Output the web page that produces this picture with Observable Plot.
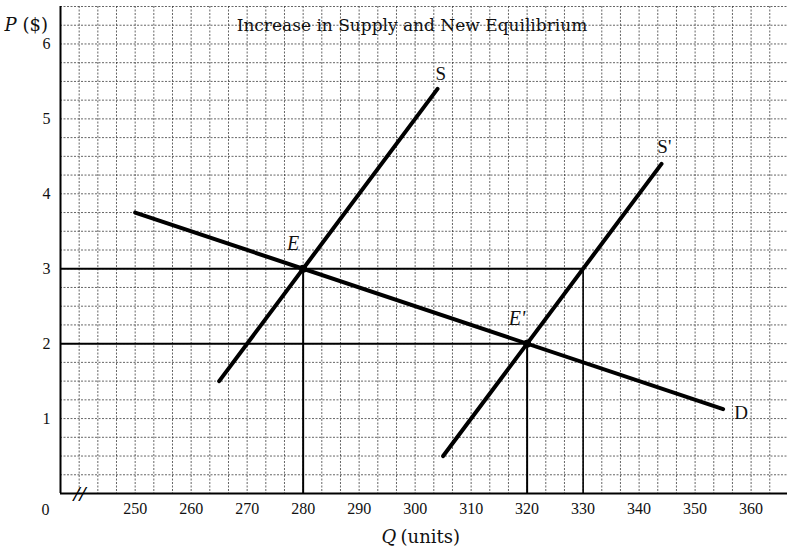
<!DOCTYPE html>
<html>
<head>
<meta charset="utf-8">
<script src="https://cdn.jsdelivr.net/npm/d3@7"></script>
<script src="https://cdn.jsdelivr.net/npm/@observablehq/plot@0.6"></script>
<style>
  html, body { margin: 0; padding: 0; background: #fff; }
  svg { display: block; }
</style>
</head>
<body>
<div id="chart"></div>
<script>
// ---- data ----
const xTicks = [250, 260, 270, 280, 290, 300, 310, 320, 330, 340, 350, 360];
const yTicks = [1, 2, 3, 4, 5, 6];
const demandQ = [250, 355];
const demandP = [3.75, 1.125];
const supplyQ = [265, 304];
const supplyP = [1.5, 5.4];
const supply2Q = [305, 344];
const supply2P = [0.5, 4.4];
const eqNames = ["E", "E'"];
const eqQ = [280, 320];
const eqP = [3, 2];
const surplusQ = 330;
const curveNames = ["S", "S'", "D"];
const curveLabelQ = [304.6, 344.5, 358.2];
const curveLabelP = [5.6, 4.62, 1.07];
const title = "Increase in Supply and New Equilibrium";

// ---- scale setup ----
const xMin = 250 - 4 * 10 / 3;
const xMax = 366.5;
const gridX = d3.range(-4, 36).map(k => 250 + k * 10 / 3).filter(v => v <= xMax);
const gridY = d3.range(1, 27).map(k => k * 0.25);

const toPts = (qs, ps) => qs.map((q, i) => ({q, p: ps[i]}));
const serif = "Liberation Serif, Times New Roman, serif";
const wide = "DejaVu Serif, serif";

const plot = Plot.plot({
  width: 787,
  height: 548,
  marginTop: 6,
  marginLeft: 60,
  marginRight: 0,
  marginBottom: 55,
  style: {fontFamily: serif, background: "#fff", overflow: "visible"},
  x: {domain: [xMin, xMax], ticks: xTicks},
  y: {domain: [0, 6.5], ticks: yTicks},
  marks: [
    Plot.ruleX(gridX, {stroke: "#333", strokeWidth: 1, strokeDasharray: "2,1.5", strokeOpacity: 0.75}),
    Plot.ruleY(gridY, {stroke: "#333", strokeWidth: 1, strokeDasharray: "2,1.5", strokeOpacity: 0.75}),
    Plot.axisX({ticks: xTicks, tickSize: 0, tickPadding: 9, fontSize: 16, label: null, fill: "#111", tickFormat: d => String(d)}),
    Plot.axisY({ticks: yTicks, tickSize: 0, tickPadding: 10, fontSize: 16, label: null, fill: "#111", tickFormat: d => String(d)}),
    // guide lines
    Plot.ruleY([eqP[0]], {x1: xMin, x2: surplusQ, stroke: "#000", strokeWidth: 2}),
    Plot.ruleY([eqP[1]], {x1: xMin, x2: eqQ[1], stroke: "#000", strokeWidth: 2}),
    Plot.ruleX([eqQ[0]], {y1: 0, y2: eqP[0], stroke: "#000", strokeWidth: 2}),
    Plot.ruleX([eqQ[1]], {y1: 0, y2: eqP[1], stroke: "#000", strokeWidth: 2}),
    Plot.ruleX([surplusQ], {y1: 0, y2: eqP[0], stroke: "#000", strokeWidth: 1.6}),
    // axes lines
    Plot.ruleX([xMin], {stroke: "#000", strokeWidth: 2}),
    Plot.ruleY([0], {stroke: "#000", strokeWidth: 2}),
    // curves
    Plot.line(toPts(demandQ, demandP), {x: "q", y: "p", stroke: "#000", strokeWidth: 4}),
    Plot.line(toPts(supplyQ, supplyP), {x: "q", y: "p", stroke: "#000", strokeWidth: 4}),
    Plot.line(toPts(supply2Q, supply2P), {x: "q", y: "p", stroke: "#000", strokeWidth: 4}),
    Plot.dot(toPts(eqQ, eqP), {x: "q", y: "p", r: 4, fill: "#000"}),
    // labels
    Plot.text(eqNames, {x: (d, i) => eqQ[i] - 1.8, y: (d, i) => eqP[i] + 0.34, text: d => d, fontSize: 20, fontStyle: "italic", fill: "#111"}),
    Plot.text(curveNames, {x: (d, i) => curveLabelQ[i], y: (d, i) => curveLabelP[i], text: d => d, fontSize: 19, fill: "#111"}),
    Plot.text([title], {frameAnchor: "top", dx: -12, dy: 12, fontSize: 17, fontFamily: wide, fill: "#111"}),
    Plot.text(["0"], {x: xMin, y: 0, dx: -15, dy: 16, fontSize: 16, fill: "#111"}),
    Plot.text(["//"], {x: xMin + 3.4, y: 0, dy: 0, fontSize: 22, fontWeight: "bold", fontStyle: "italic", fill: "#000"}),
    Plot.text(["P"], {frameAnchor: "top-left", dx: -56, dy: 12, textAnchor: "start", fontSize: 18, fontFamily: wide, fontStyle: "italic", fill: "#111"}),
    Plot.text(["($)"], {frameAnchor: "top-left", dx: -38, dy: 12, textAnchor: "start", fontSize: 18, fontFamily: wide, fill: "#111"}),
    Plot.text(["Q"], {x: 295.3, y: 0, dy: 44, fontSize: 18, fontFamily: wide, fontStyle: "italic", fill: "#111"}),
    Plot.text(["(units)"], {x: 297.4, y: 0, dy: 44, textAnchor: "start", fontSize: 18, fontFamily: wide, fill: "#111"})
  ]
});
document.getElementById("chart").appendChild(plot);
</script>
</body>
</html>
